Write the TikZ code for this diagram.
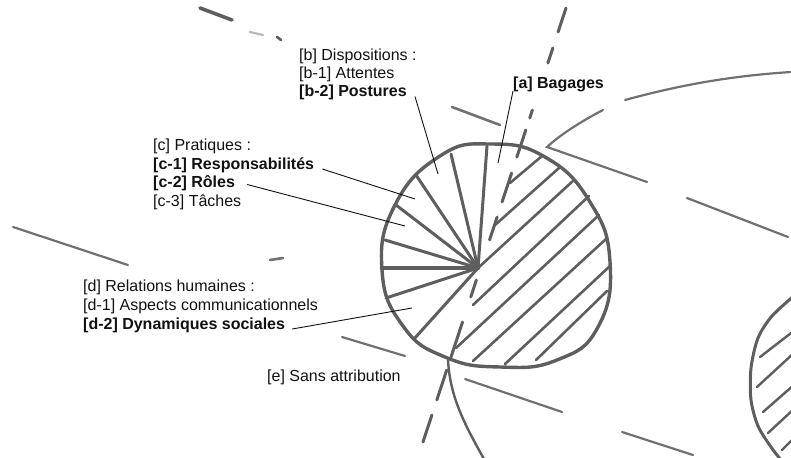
\documentclass[tikz,border=0pt]{standalone}
\usepackage{fontspec}
\setmainfont{Liberation Sans}
\usetikzlibrary{calc}
\definecolor{pencil}{HTML}{5E5E5E}
\definecolor{faint}{HTML}{707070}
\definecolor{pale}{HTML}{B8B8B8}
\definecolor{ink}{HTML}{111111}

\begin{document}
\begin{tikzpicture}[x=1pt,y=-1pt,
  lbl/.style={anchor=west,inner sep=0pt,text=ink,font=\fontsize{16}{18}\selectfont},
  leader/.style={ink,line width=0.9pt},
  rim/.style={pencil,line width=3.4pt,line join=round},
  spoke/.style={pencil,line width=3pt,line cap=round},
  hatch/.style={pencil,line width=2.6pt,line cap=round},
  dashseg/.style={pencil,line width=3pt,line cap=round},
  stroke/.style={faint,line width=2.2pt,line cap=round}]
  \useasboundingbox (0,0) rectangle (791,457);

  \coordinate (hub) at (478,268);
  \coordinate (s1) at (487,146);
  \coordinate (s2) at (451,154);
  \coordinate (s3) at (416,175);
  \coordinate (s4) at (396,205);
  \coordinate (s5) at (385,240);
  \coordinate (s6) at (382,268);
  \coordinate (s7) at (386,298);
  \coordinate (s8) at (414,339);

  \foreach \xa/\ya/\xb/\yb in {510/183/542/156, 495/225/559/168, 478/268/574/180, 473/305/589/196,
      456/348/599/215, 473/361/606/239, 505/364/610/266, 536/360/607/291}
    \draw[hatch] (\xa,\ya) -- (\xb,\yb);

  \foreach \p in {s1,s2,s3,s4,s5,s7,s8}
    \draw[spoke] (hub) -- (\p);
  \draw[spoke,line width=4.6pt] (hub) -- (s6);

  \draw[rim] plot[smooth cycle,tension=0.8] coordinates {(490,144) (545,157) (590,202) (610,262)
    (598,327) (557,360) (500,367) (445,357) (403,326) (382,270) (395,205) (440,156)};

  \foreach \ya/\yb in {8/32,48/63,110/118,130/157,173/202,217/240,280/297,322/357,370/400,415/442}
    \draw[dashseg] ({566-0.3295*(\ya-8)},\ya) -- ({566-0.3295*(\yb-8)},\yb);

  \draw[spoke,line width=2.4pt] (448,360) .. controls (450,395) and (462,420) .. (484,459);

  \draw[rim,line width=3pt] plot[smooth] coordinates {(795,295) (772,316) (758,338) (751,368)
    (751,400) (758,426) (771,447) (781,460)};
  \foreach \xa/\ya/\xb/\yb in {760/357/795/330, 757/387/795/352, 763/412/795/384, 768/433/795/408, 782/450/795/437}
    \draw[hatch,line width=2.4pt] (\xa,\ya) -- (\xb,\yb);

  \draw[stroke,pencil,line width=3.6pt] (200,8) -- (232,20);
  \draw[stroke,pale] (250,32) -- (263,35);
  \draw[stroke,pencil,line width=2.6pt] (277,37) -- (281,40);
  \draw[stroke] (13,227) -- (128,265);
  \draw[stroke,line width=2.6pt] (270,260) -- (283,258);
  \draw[stroke,line width=2.6pt] (452,107) -- (500,125);
  \draw[stroke] (625,100) .. controls (680,85) and (730,76) .. (791,72);
  \draw[stroke] (603,110) .. controls (580,122) and (560,135) .. (547,147) -- (647,182);
  \draw[stroke] (687,198) -- (788,237);
  \draw[stroke] (342,337) -- (405,356);
  \draw[stroke] (465,379) -- (562,412);
  \draw[stroke] (622,432) -- (693,455);

  \node[lbl] (b) at (299,56) {[b] Dispositions :};
  \node[lbl] (b1) at (299,74) {[b-1] Attentes};
  \node[lbl] (b2) at (299,92.5) {\bfseries [b-2] Postures};
  \node[lbl] (a) at (513,84) {\bfseries [a] Bagages};
  \node[lbl] (c) at (153,146) {[c] Pratiques :};
  \node[lbl] (c1) at (153,165) {\bfseries [c-1] Responsabilités};
  \node[lbl] (c2) at (153,183.5) {\bfseries [c-2] Rôles};
  \node[lbl] (c3) at (153,202) {[c-3] Tâches};
  \node[lbl] (d) at (83,287) {[d] Relations humaines :};
  \node[lbl] (d1) at (83,306) {[d-1] Aspects communicationnels};
  \node[lbl] (d2) at (83,325) {\bfseries [d-2] Dynamiques sociales};
  \node[lbl] (e) at (267,377) {[e] Sans attribution};

  \coordinate (pa) at (498,163);
  \coordinate (pb) at (438,174);
  \coordinate (pc1) at (415,199);
  \coordinate (pc2) at (405,226);
  \coordinate (pd) at (412,308);
  \draw[leader] ([yshift=-7pt]a.west) -- (pa);
  \draw[leader] ([xshift=8pt,yshift=-4pt]b2.east) -- (pb);
  \draw[leader] ([xshift=8pt,yshift=-4pt]c1.east) -- (pc1);
  \draw[leader] ([xshift=12pt,yshift=-1pt]c2.east) -- (pc2);
  \draw[leader] ([xshift=7pt,yshift=-4pt]d2.east) -- (pd);
\end{tikzpicture}
\end{document}
